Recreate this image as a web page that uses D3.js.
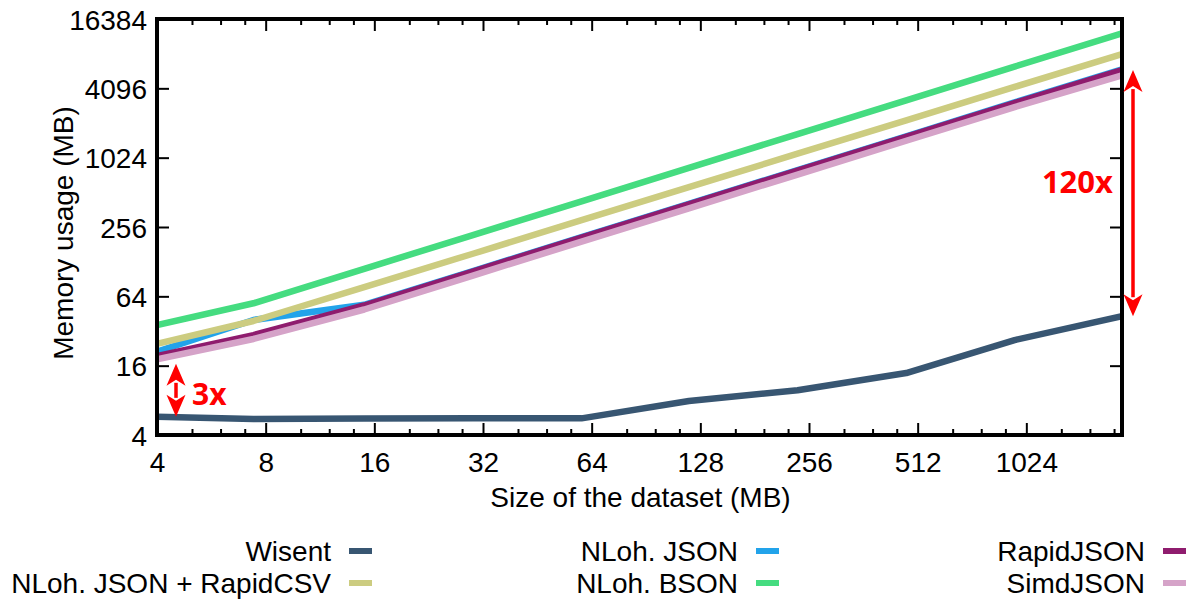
<!DOCTYPE html>
<html>
<head>
<meta charset="utf-8">
<script src="https://cdn.jsdelivr.net/npm/d3@7"></script>
<style>
  html, body { margin: 0; padding: 0; background: #fff; }
  svg { display: block; }
  text { font-family: "Liberation Sans", Arial, Helvetica, sans-serif; fill: #000; }
</style>
</head>
<body>
<svg id="chart" width="1188" height="601"></svg>
<script>
// ---------------- data ----------------
const sizes     = [4, 7.4, 15, 30, 60, 119, 238, 476, 950, 1885];
const wisent    = [5.75, 5.5, 5.55, 5.6, 5.58, 7.9, 9.8, 13.8, 26.7, 43];
const nlohJson  = [21.2, 39.9, 54, 106, 209, 407, 800, 1570, 3090, 5990];
const rapidJson = [19.4, 29.5, 53.3, 105, 207, 403, 792, 1556, 3053, 5900];
const nlohCsv   = [24.7, 39.1, 77.1, 150, 294, 568, 1108, 2160, 4210, 8130];
const nlohBson  = [36.1, 55.7, 111, 218, 428, 836, 1640, 3220, 6320, 12300];
const simdJson  = [18.2, 27.3, 49.2, 97, 191, 372, 731, 1436, 2815, 5300];

const seriesNames  = ["Wisent", "NLoh. JSON", "RapidJSON", "NLoh. JSON + RapidCSV", "NLoh. BSON", "SimdJSON"];
const seriesValues = [wisent, nlohJson, rapidJson, nlohCsv, nlohBson, simdJson];
const seriesColors = ["#385672", "#22a3ea", "#8f1c6e", "#cccc80", "#45dc80", "#d5a3c8"];

const xMajorTicks = [4, 8, 16, 32, 64, 128, 256, 512, 1024];
const xMinorFactors = [1.25, 1.5, 1.75];
const yTicks = [4, 16, 64, 256, 1024, 4096, 16384];
const xDomain = [4, 1885];
const yDomain = [4, 16384];

// annotations (data units)
const bigRatioLabel = "120x";
const bigRatioRange = [5900, 43];
const smallRatioLabel = "3x";
const smallRatioRange = [16.6, 5.75];

// ---------------- layout ----------------
const svg = d3.select("#chart");
const L = 157, R = 1122, T = 19, B = 435;

const x = d3.scaleLog().base(2).domain(xDomain).range([L, R]);
const y = d3.scaleLog().base(2).domain(yDomain).range([B, T]);

const xMinorTicks = [];
xMajorTicks.forEach(p => xMinorFactors.forEach(f => { if (p * f < xDomain[1]) xMinorTicks.push(p * f); }));

// clip
svg.append("defs").append("clipPath").attr("id", "plotclip")
  .append("rect").attr("x", L).attr("y", T).attr("width", R - L).attr("height", B - T);

// lines
const line = d3.line().x((d, i) => x(sizes[i])).y(d => y(d));
const linesG = svg.append("g").attr("clip-path", "url(#plotclip)");
seriesValues.forEach((vals, k) => {
  linesG.append("path")
    .attr("d", line(vals))
    .attr("fill", "none")
    .attr("stroke", seriesColors[k])
    .attr("stroke-width", 6.5)
    .attr("stroke-linejoin", "round");
});

// axes
function styleAxis(g) {
  g.select(".domain").remove();
  g.selectAll(".tick line").attr("stroke", "#000").attr("stroke-width", 2);
}
const gxb = svg.append("g").attr("transform", `translate(0,${B})`)
  .call(d3.axisBottom(x).tickValues(xMajorTicks).tickSize(-12).tickFormat(d3.format("d")));
styleAxis(gxb);
gxb.selectAll(".tick text").attr("y", 37).attr("dy", null)
  .style("font-size", "28px").attr("fill", "#000");
const gxbm = svg.append("g").attr("transform", `translate(0,${B})`)
  .call(d3.axisBottom(x).tickValues(xMinorTicks).tickSize(-6).tickFormat(""));
styleAxis(gxbm);
const gxt = svg.append("g").attr("transform", `translate(0,${T})`)
  .call(d3.axisTop(x).tickValues(xMajorTicks).tickSize(-12).tickFormat(""));
styleAxis(gxt);
const gxtm = svg.append("g").attr("transform", `translate(0,${T})`)
  .call(d3.axisTop(x).tickValues(xMinorTicks).tickSize(-6).tickFormat(""));
styleAxis(gxtm);
const gyl = svg.append("g").attr("transform", `translate(${L},0)`)
  .call(d3.axisLeft(y).tickValues(yTicks).tickSize(-12).tickFormat(d3.format("d")));
styleAxis(gyl);
gyl.selectAll(".tick text").attr("x", -10).attr("dy", "0.36em")
  .style("font-size", "28px").attr("fill", "#000");
const gyr = svg.append("g").attr("transform", `translate(${R},0)`)
  .call(d3.axisRight(y).tickValues(yTicks).tickSize(-12).tickFormat(""));
styleAxis(gyr);

// frame
svg.append("rect").attr("x", L).attr("y", T).attr("width", R - L).attr("height", B - T)
  .attr("fill", "none").attr("stroke", "#000").attr("stroke-width", 4);

// axis titles
svg.append("text").attr("x", (L + R) / 2 + 1).attr("y", 507)
  .attr("text-anchor", "middle").style("font-size", "28px").text("Size of the dataset (MB)");
svg.append("text").attr("transform", "translate(73,233) rotate(-90)")
  .attr("text-anchor", "middle").style("font-size", "28px").text("Memory usage (MB)");

// legend
const legendCols = [331, 738, 1145];
const legendRows = [551, 583];
seriesNames.forEach((name, k) => {
  const col = k % 3, row = Math.floor(k / 3);
  const tx = legendCols[col], ty = legendRows[row];
  svg.append("text").attr("x", tx).attr("y", ty).attr("dy", "0.36em")
    .attr("text-anchor", "end").style("font-size", "28px").text(name);
  svg.append("line").attr("x1", tx + 18).attr("x2", tx + 41).attr("y1", ty).attr("y2", ty)
    .attr("stroke", seriesColors[k]).attr("stroke-width", 6);
});

// annotations
function dblArrow(xp, y1, y2) {
  const g = svg.append("g");
  const hl = 22, hw = 9.5, notch = 6;
  g.append("line").attr("x1", xp).attr("x2", xp).attr("y1", y1 + hl - 3).attr("y2", y2 - hl + 3)
    .attr("stroke", "#ff0000").attr("stroke-width", 3.5);
  g.append("path").attr("fill", "#ff0000")
    .attr("d", `M${xp},${y1} L${xp + hw},${y1 + hl} L${xp},${y1 + hl - notch} L${xp - hw},${y1 + hl} Z`);
  g.append("path").attr("fill", "#ff0000")
    .attr("d", `M${xp},${y2} L${xp + hw},${y2 - hl} L${xp},${y2 - hl + notch} L${xp - hw},${y2 - hl} Z`);
}
dblArrow(R + 11, y(bigRatioRange[0]), y(bigRatioRange[1]));
svg.append("text").attr("x", R - 9).attr("y", y(Math.sqrt(bigRatioRange[0] * bigRatioRange[1])) - 11)
  .attr("text-anchor", "end").attr("dy", "0.36em")
  .style("font-family", "'Open Sans', 'DejaVu Sans', sans-serif").style("font-weight", 700)
  .style("font-size", "31px").style("fill", "#ff0000").text(bigRatioLabel);

dblArrow(L + 19, y(smallRatioRange[0]), y(smallRatioRange[1]));
svg.append("text").attr("x", L + 35).attr("y", y(Math.sqrt(smallRatioRange[0] * smallRatioRange[1])) + 4)
  .attr("text-anchor", "start").attr("dy", "0.36em")
  .style("font-family", "'Open Sans', 'DejaVu Sans', sans-serif").style("font-weight", 700)
  .style("font-size", "30px").style("fill", "#ff0000").text(smallRatioLabel);
</script>
</body>
</html>
